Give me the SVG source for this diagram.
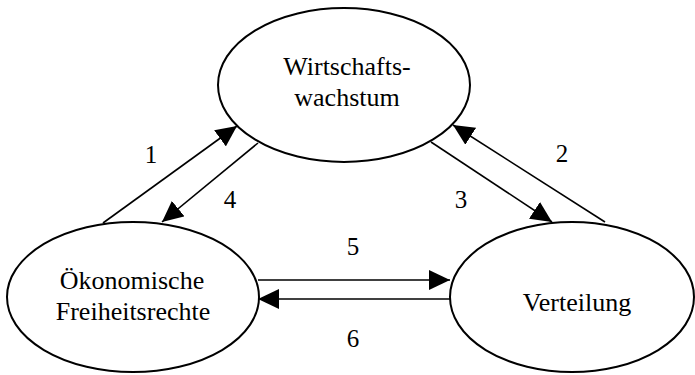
<svg xmlns="http://www.w3.org/2000/svg" width="695" height="375" viewBox="0 0 695 375">
<style>
.node{fill:#fff;stroke:#000;stroke-width:2}
.t{font-family:'Liberation Serif','Times New Roman','DejaVu Serif',Times,serif;font-size:26px;fill:#000;text-anchor:middle}
.n{font-family:'Liberation Serif','Times New Roman','DejaVu Serif',Times,serif;font-size:25px;fill:#000;text-anchor:middle}
.c{stroke:#000;stroke-width:1.6;fill:none;marker-end:url(#ah)}
</style>
<defs>
<marker id="ah" markerUnits="userSpaceOnUse" markerWidth="22" markerHeight="20" refX="21" refY="10" orient="auto" viewBox="0 0 22 20">
<path d="M0,0 L21,10 L0,20 z" fill="#000"/>
</marker>
</defs>
<rect width="695" height="375" fill="#fff"/>
<g id="wachstum">
<ellipse class="node" cx="344" cy="85" rx="126" ry="77"/>
<text class="t" x="347" y="75" font-family="Liberation Serif, serif">Wirtschafts-</text>
<text class="t" x="347" y="106" font-family="Liberation Serif, serif">wachstum</text>
</g>
<g id="freiheit">
<ellipse class="node" cx="133" cy="297" rx="126" ry="75"/>
<text class="t" x="132" y="289" font-family="Liberation Serif, serif">Ökonomische</text>
<text class="t" x="133" y="320" font-family="Liberation Serif, serif">Freiheitsrechte</text>
</g>
<g id="verteilung">
<ellipse class="node" cx="572" cy="297" rx="122" ry="75"/>
<text class="t" x="577" y="311" font-family="Liberation Serif, serif">Verteilung</text>
</g>
<g id="connectors">
<line class="c" x1="103" y1="223" x2="237" y2="126"/>
<line class="c" x1="258" y1="143" x2="162" y2="222"/>
<line class="c" x1="605" y1="222" x2="453" y2="125"/>
<line class="c" x1="431" y1="142" x2="552" y2="222"/>
<line class="c" x1="258" y1="280" x2="450" y2="280"/>
<line class="c" x1="450" y1="299" x2="258" y2="299"/>
<text class="n" x="151" y="163" font-family="Liberation Serif, serif">1</text>
<text class="n" x="562" y="162" font-family="Liberation Serif, serif">2</text>
<text class="n" x="461" y="208" font-family="Liberation Serif, serif">3</text>
<text class="n" x="230" y="208" font-family="Liberation Serif, serif">4</text>
<text class="n" x="353" y="255" font-family="Liberation Serif, serif">5</text>
<text class="n" x="353" y="347" font-family="Liberation Serif, serif">6</text>
</g>
</svg>
